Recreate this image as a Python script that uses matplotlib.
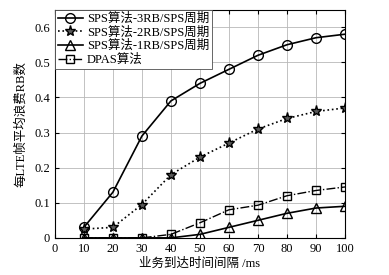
import numpy as np
import matplotlib.pyplot as plt

plt.rcParams['font.family'] = ['Liberation Serif', 'Noto Sans CJK SC']
plt.rcParams['xtick.direction'] = 'in'
plt.rcParams['ytick.direction'] = 'in'

# arrival interval (ms)
interval = [10, 20, 30, 40, 50, 60, 70, 80, 90, 100]
sps_3rb = [0.03, 0.13, 0.29, 0.39, 0.44, 0.48, 0.52, 0.55, 0.57, 0.58]
sps_2rb = [0.025, 0.03, 0.095, 0.18, 0.23, 0.27, 0.31, 0.34, 0.36, 0.37]
sps_1rb = [0, 0, 0, 0, 0.01, 0.03, 0.05, 0.07, 0.085, 0.09]
dpas = [0, 0, 0, 0.01, 0.043, 0.08, 0.093, 0.12, 0.135, 0.145]

fig = plt.figure(figsize=(3.89, 2.75), dpi=100)
ax = fig.add_axes([0.141, 0.135, 0.746, 0.83])

ax.plot(interval, sps_3rb, 'k-o', mfc='none', ms=7, lw=1.2, label='SPS算法-3RB/SPS周期')
ax.plot(interval, sps_2rb, 'k:*', mfc='0.35', ms=8, lw=1.2, label='SPS算法-2RB/SPS周期')
ax.plot(interval, sps_1rb, 'k-^', mfc='none', ms=7, lw=1.2, label='SPS算法-1RB/SPS周期')
ax.plot(interval, dpas, 'k-.s', mfc='none', ms=6, lw=1.0, label='DPAS算法')

ax.set_xlim(0, 100)
ax.set_ylim(0, 0.65)
ax.set_xticks(np.arange(0, 101, 10))
ax.set_yticks([0, 0.1, 0.2, 0.3, 0.4, 0.5, 0.6])
ax.set_yticklabels(['0', '0.1', '0.2', '0.3', '0.4', '0.5', '0.6'])
ax.tick_params(labelsize=9, length=3, top=True, right=True)
ax.grid(True, color='0.72', lw=0.6)
ax.set_xlabel('业务到达时间间隔 /ms', fontsize=9, labelpad=2)
ax.set_ylabel('每LTE帧平均浪费RB数', fontsize=9, labelpad=5)

leg = ax.legend(loc='upper left', fontsize=9, handlelength=2.0, borderaxespad=0.0,
                labelspacing=0.12, borderpad=0.25, handletextpad=0.3, fancybox=False,
                edgecolor='0.3', framealpha=1)
leg.get_frame().set_linewidth(0.6)

fig.savefig('out.png', dpi=100)
